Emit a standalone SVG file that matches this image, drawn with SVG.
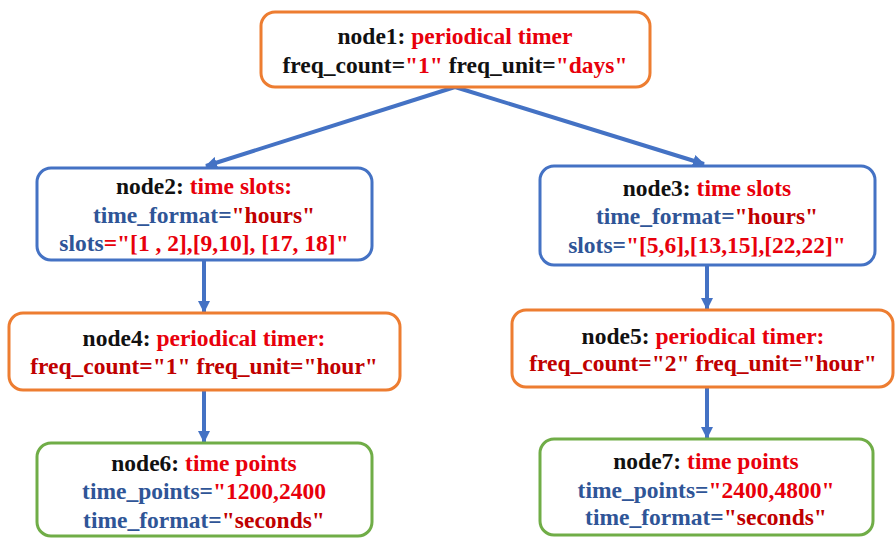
<svg xmlns="http://www.w3.org/2000/svg" width="895" height="538" viewBox="0 0 895 538">
<defs>
<marker id="ah" markerWidth="12" markerHeight="12" viewBox="0 0 12 12" refX="11" refY="6" orient="auto" markerUnits="userSpaceOnUse">
<path d="M0,0 L12,6 L0,12 Z" fill="#4472C4"/>
</marker>
<style>
.box{fill:#fff;stroke-width:3}
.o{stroke:#ED7D31}.b{stroke:#4472C4}.g{stroke:#70AD47}
text{font-family:'Liberation Serif','DejaVu Serif',serif;font-weight:bold;font-size:23.5px;text-anchor:middle}
.k{fill:#111}.r{fill:#E8000B}.d{fill:#C00000}.u{fill:#2F5597}
.c{stroke:#4472C4;stroke-width:4;fill:none;marker-end:url(#ah)}
</style>
</defs>
<rect width="895" height="538" fill="#fff"/>
<g id="connectors">
<line class="c" x1="455" y1="87" x2="206" y2="166"/>
<line class="c" x1="455" y1="87" x2="704" y2="164"/>
<line class="c" x1="204" y1="260" x2="204" y2="312"/>
<line class="c" x1="707" y1="265" x2="707" y2="309"/>
<line class="c" x1="204" y1="390" x2="204" y2="442"/>
<line class="c" x1="707" y1="387" x2="707" y2="438"/>
</g>
<g id="node1">
<rect class="box o" x="261" y="12" width="389" height="75" rx="14"/>
<text x="455" y="44"><tspan class="k">node1: </tspan><tspan class="r">periodical timer</tspan></text>
<text x="455" y="73"><tspan class="k">freq_count=</tspan><tspan class="r">"1"</tspan><tspan class="k"> freq_unit=</tspan><tspan class="r">"days"</tspan></text>
</g>
<g id="node2">
<rect class="box b" x="37" y="168" width="335" height="92" rx="14"/>
<text x="204" y="194"><tspan class="k">node2: </tspan><tspan class="r">time slots:</tspan></text>
<text x="204" y="223"><tspan class="u">time_format=</tspan><tspan class="d">"hours"</tspan></text>
<text x="204" y="251"><tspan class="u">slots</tspan><tspan class="r">="[1 , 2],[9,10], [17, 18]"</tspan></text>
</g>
<g id="node3">
<rect class="box b" x="540" y="166" width="335" height="99" rx="14"/>
<text x="707" y="196"><tspan class="k">node3: </tspan><tspan class="r">time slots</tspan></text>
<text x="707" y="224"><tspan class="u">time_format=</tspan><tspan class="d">"hours"</tspan></text>
<text x="707" y="253"><tspan class="u">slots=</tspan><tspan class="r">"[5,6],[13,15],[22,22]"</tspan></text>
</g>
<g id="node4">
<rect class="box o" x="9" y="313" width="391" height="77" rx="14"/>
<text x="204" y="346"><tspan class="k">node4: </tspan><tspan class="r">periodical timer:</tspan></text>
<text x="204" y="374" class="d">freq_count="1" freq_unit="hour"</text>
</g>
<g id="node5">
<rect class="box o" x="512" y="310" width="381" height="77" rx="14"/>
<text x="703" y="344"><tspan class="k">node5: </tspan><tspan class="r">periodical timer:</tspan></text>
<text x="703" y="371" class="d">freq_count="2" freq_unit="hour"</text>
</g>
<g id="node6">
<rect class="box g" x="37" y="443" width="335" height="93" rx="14"/>
<text x="204" y="471"><tspan class="k">node6: </tspan><tspan class="r">time points</tspan></text>
<text x="204" y="499"><tspan class="u">time_points=</tspan><tspan class="r">"1200,2400</tspan></text>
<text x="204" y="528"><tspan class="u">time_format=</tspan><tspan class="d">"seconds"</tspan></text>
</g>
<g id="node7">
<rect class="box g" x="540" y="439" width="333" height="96" rx="14"/>
<text x="706" y="469"><tspan class="k">node7: </tspan><tspan class="r">time points</tspan></text>
<text x="706" y="498"><tspan class="u">time_points=</tspan><tspan class="r">"2400,4800"</tspan></text>
<text x="706" y="525"><tspan class="u">time_format=</tspan><tspan class="d">"seconds"</tspan></text>
</g>
</svg>
